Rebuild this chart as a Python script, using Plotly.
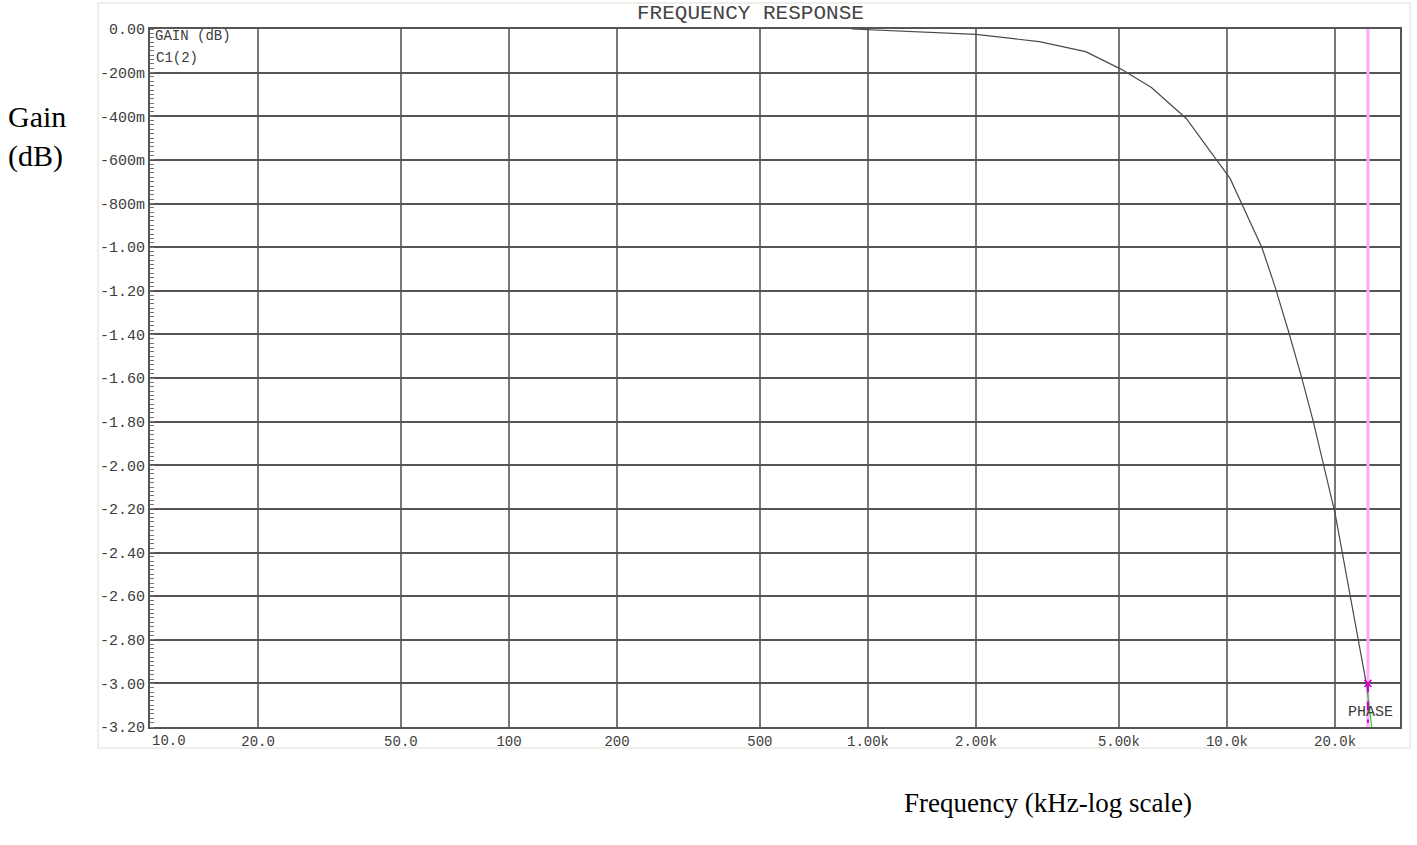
import plotly.graph_objects as go

# ---- data ----
freq_hz = [900, 1570, 2000, 3000, 4040, 5080, 6160, 7700, 9290, 10200,
           12500, 13600, 14800, 16100, 17400, 18500, 20000, 24500]
gain_db = [0.0, -0.017, -0.025, -0.058, -0.104, -0.185, -0.268, -0.41,
           -0.59, -0.685, -1.00, -1.18, -1.38, -1.59, -1.80, -1.99, -2.22, -3.01]

tail_freq = [24500, 25300]
tail_gain = [-3.01, -3.20]

cursor_freq = 24700
cursor_gain = -3.0

x_tick_vals = [10, 20, 50, 100, 200, 500, 1000, 2000, 5000, 10000, 20000]
x_tick_text = ["10.0", "20.0", "50.0", "100", "200", "500",
               "1.00k", "2.00k", "5.00k", "10.0k", "20.0k"]
y_tick_vals = [0, -0.2, -0.4, -0.6, -0.8, -1.0, -1.2, -1.4, -1.6, -1.8, -2.0,
               -2.2, -2.4, -2.6, -2.8, -3.0, -3.2]
y_tick_text = ["0.00", "-200m", "-400m", "-600m", "-800m", "-1.00", "-1.20",
               "-1.40", "-1.60", "-1.80", "-2.00", "-2.20", "-2.40", "-2.60",
               "-2.80", "-3.00", "-3.20"]

MONO = "Liberation Mono"
TXT = "#3c3c3c"

fig = go.Figure()

# cursor line
fig.add_trace(go.Scatter(x=[cursor_freq, cursor_freq], y=[0, -3.2], mode="lines",
                         line=dict(color="#ffa8ff", width=3), hoverinfo="skip",
                         showlegend=False))
# main curve
fig.add_trace(go.Scatter(x=freq_hz, y=gain_db, mode="lines",
                         line=dict(color="#4a4a4a", width=1.2), showlegend=False))
# tail in green
fig.add_trace(go.Scatter(x=tail_freq, y=tail_gain, mode="lines",
                         line=dict(color="#33cc33", width=1.3), showlegend=False))
# magenta cursor marker
fig.add_trace(go.Scatter(x=[cursor_freq, cursor_freq], y=[cursor_gain, -3.18], mode="lines",
                         line=dict(color="#cc00cc", width=2, dash="dash"), showlegend=False))
fig.add_trace(go.Scatter(x=[cursor_freq], y=[cursor_gain], mode="markers",
                         marker=dict(symbol="x-thin", size=7, color="#cc00cc",
                                     line=dict(color="#cc00cc", width=1.5)),
                         showlegend=False))

# tick labels: first one is left-aligned at the axis start, others centred
x_labels_shown = [""] + x_tick_text[1:]

fig.update_xaxes(type="log", range=[1, 4.482], tickvals=x_tick_vals, ticktext=x_labels_shown,
                 showgrid=True, gridcolor="#777777", gridwidth=2,
                 showline=True, linecolor="#555555", linewidth=2, mirror=True,
                 ticks="", zeroline=False,
                 tickfont=dict(family=MONO, size=14, color=TXT))
fig.update_yaxes(range=[-3.2, 0], tickvals=y_tick_vals, ticktext=y_tick_text,
                 showgrid=True, gridcolor="#555555", gridwidth=1.6,
                 showline=True, linecolor="#555555", linewidth=2, mirror=True,
                 ticks="", zeroline=False,
                 minor=dict(dtick=0.02, ticks="inside", ticklen=4, tickcolor="#777777",
                            showgrid=False),
                 tickfont=dict(family=MONO, size=15, color=TXT))

L, R, T, B = 150, 17, 29, 118
W, H = 1417, 845
pw, ph = W - L - R, H - T - B

def px(x):
    return (x - L) / pw

def py(y):
    return (H - B - y) / ph

annotations = [
    dict(text=x_tick_text[0], x=1, xref="x", y=py(741), yref="paper",
         xanchor="left", yanchor="middle",
         font=dict(family=MONO, size=14, color=TXT)),
    dict(text="GAIN (dB)", x=px(153), y=py(36), xanchor="left", yanchor="middle",
         font=dict(family=MONO, size=14, color=TXT)),
    dict(text="C1(2)", x=px(154), y=py(58), xanchor="left", yanchor="middle",
         font=dict(family=MONO, size=14, color=TXT)),
    dict(text="PHASE", x=px(1346), y=py(712), xanchor="left", yanchor="middle",
         font=dict(family=MONO, size=15, color=TXT)),
    dict(text="FREQUENCY RESPONSE", x=px(750), y=py(14), xanchor="center", yanchor="middle",
         font=dict(family=MONO, size=21, color="#444444")),
    dict(text="Gain<br>(dB)", x=px(6), y=py(136), xanchor="left", yanchor="middle",
         align="left", font=dict(family="Liberation Serif", size=30, color="black")),
    dict(text="Frequency (kHz-log scale)", x=px(902), y=py(803), xanchor="left",
         yanchor="middle", font=dict(family="Liberation Serif", size=27, color="black")),
]
for a in annotations:
    a.setdefault("xref", "paper")
    a.setdefault("yref", "paper")
    a["showarrow"] = False

fig.update_layout(
    width=W, height=H,
    margin=dict(l=L, r=R, t=T, b=B),
    paper_bgcolor="white", plot_bgcolor="white",
    annotations=annotations,
    shapes=[dict(type="rect", xref="paper", yref="paper",
                 x0=px(98), x1=px(1410), y0=py(748), y1=py(3),
                 line=dict(color="#f0eee9", width=2), layer="below")],
    showlegend=False,
)

fig.write_html("out.html")
